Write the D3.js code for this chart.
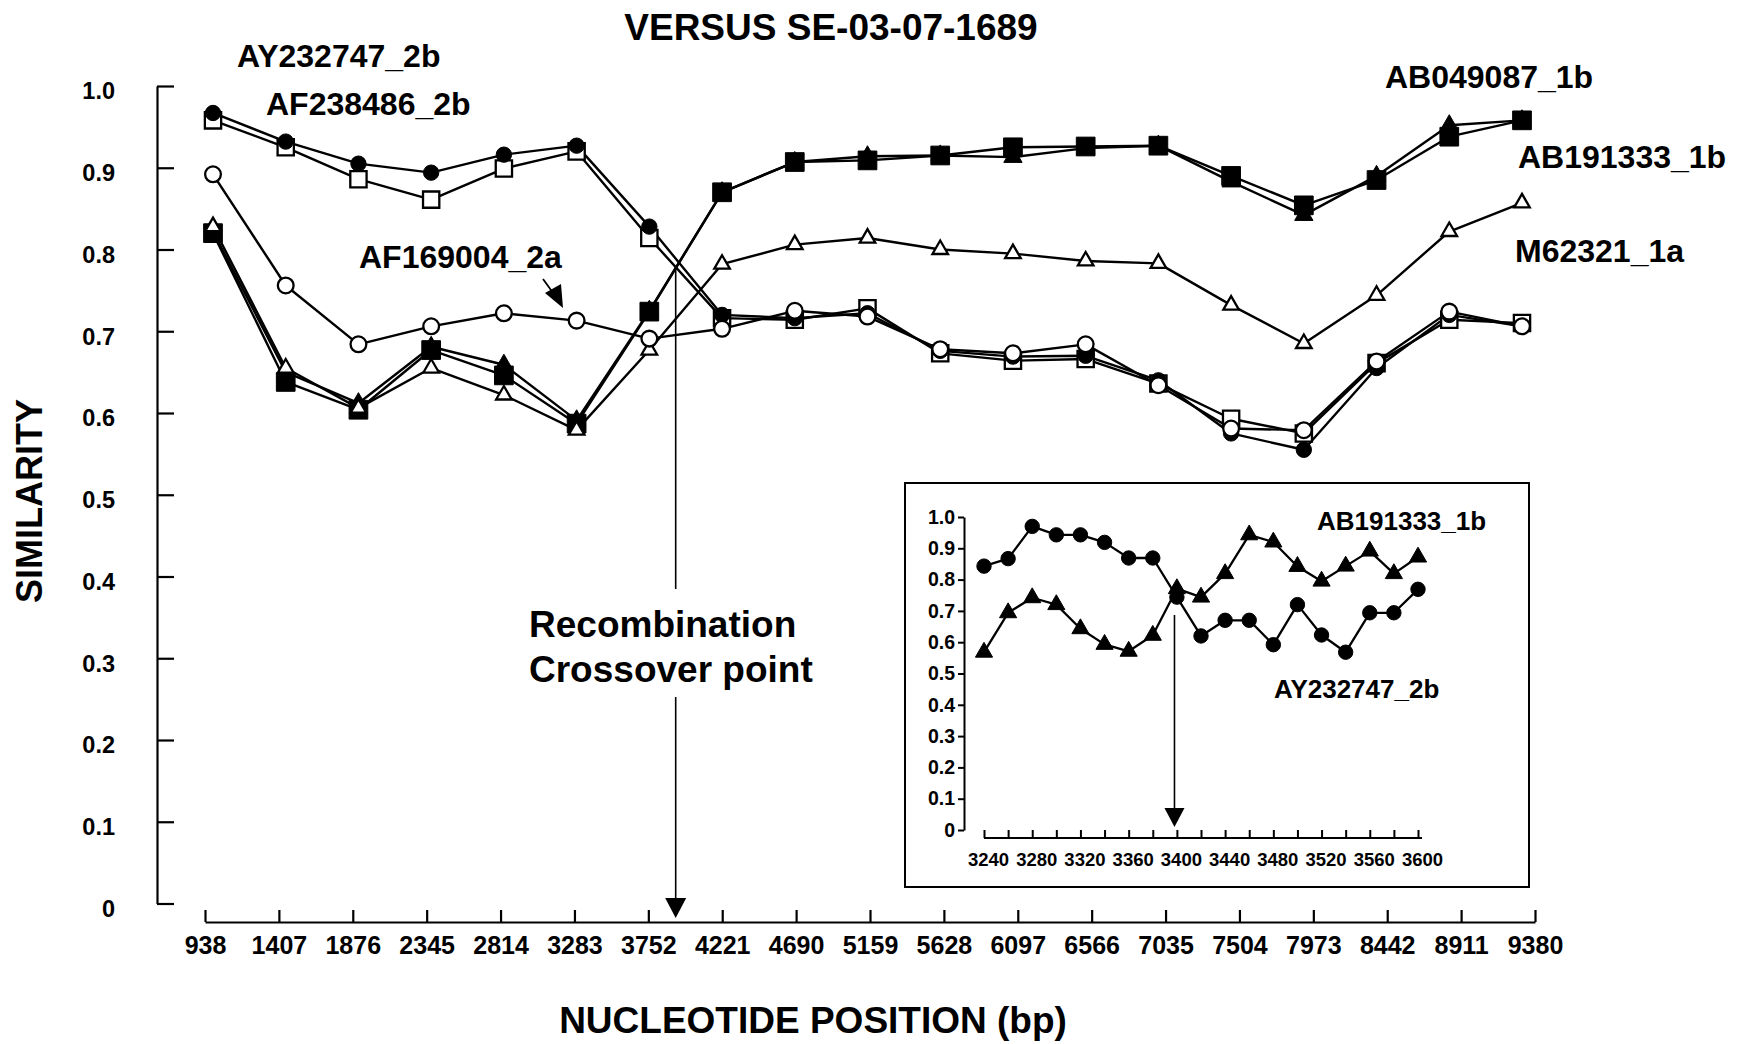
<!DOCTYPE html>
<html>
<head>
<meta charset="utf-8">
<script src="https://cdn.jsdelivr.net/npm/d3@7"></script>
<style>
  body { margin: 0; background: #fff; }
  svg { display: block; }
  text { font-family: "Liberation Sans", Arial, sans-serif; font-weight: bold; fill: #000; }
</style>
</head>
<body>
<div id="vis-display"></div>
<script>
// Similarity plot vs SE-03-07-1689, with a zoomed inset around the crossover.

// ── Data ──────────────────────────────────────────────────────────────────

const positions = [938, 1407, 1876, 2345, 2814, 3283, 3752, 4221, 4690, 5159,
                   5628, 6097, 6566, 7035, 7504, 7973, 8442, 8911, 9380];

const simTicks      = [0, 0.1, 0.2, 0.3, 0.4, 0.5, 0.6, 0.7, 0.8, 0.9, 1.0];
const simTickLabels = ["0", "0.1", "0.2", "0.3", "0.4", "0.5", "0.6", "0.7", "0.8", "0.9", "1.0"];

const af238486_2b = [0.958, 0.925, 0.886, 0.861, 0.899, 0.920, 0.814, 0.716, 0.714, 0.728,
                     0.673, 0.664, 0.666, 0.636, 0.593, 0.575, 0.661, 0.714, 0.710];
const ay232747_2b = [0.967, 0.932, 0.905, 0.894, 0.916, 0.927, 0.828, 0.720, 0.716, 0.722,
                     0.676, 0.669, 0.670, 0.640, 0.575, 0.555, 0.655, 0.720, 0.706];
const ab191333_1b = [0.822, 0.650, 0.612, 0.681, 0.659, 0.591, 0.725, 0.870, 0.907, 0.914,
                     0.915, 0.913, 0.924, 0.927, 0.883, 0.842, 0.890, 0.952, 0.958];
const ab049087_1b = [0.820, 0.638, 0.604, 0.677, 0.646, 0.587, 0.724, 0.870, 0.907, 0.909,
                     0.915, 0.925, 0.926, 0.927, 0.890, 0.854, 0.885, 0.938, 0.958];
const m62321_1a   = [0.828, 0.655, 0.606, 0.655, 0.622, 0.579, 0.677, 0.782, 0.806, 0.814,
                     0.800, 0.795, 0.786, 0.783, 0.732, 0.685, 0.744, 0.822, 0.857];
const af169004_2a = [0.892, 0.756, 0.684, 0.706, 0.722, 0.713, 0.691, 0.703, 0.725, 0.718,
                     0.678, 0.673, 0.684, 0.634, 0.581, 0.579, 0.663, 0.724, 0.706];

const crossoverPos = 3922;   // bp, main arrow
const crossoverTop = 0.777;  // similarity where the arrow starts

// inset: window 3240–3600
const insetPositions  = [3240, 3260, 3280, 3300, 3320, 3340, 3360, 3380, 3400, 3420,
                         3440, 3460, 3480, 3500, 3520, 3540, 3560, 3580, 3600];
const insetTickLabels = [3240, 3280, 3320, 3360, 3400, 3440, 3480, 3520, 3560, 3600];
const insetAY232747   = [0.843, 0.867, 0.970, 0.943, 0.943, 0.919, 0.869, 0.869, 0.744, 0.620,
                         0.670, 0.670, 0.592, 0.720, 0.623, 0.568, 0.694, 0.694, 0.769];
const insetAB191333   = [0.568, 0.694, 0.742, 0.720, 0.643, 0.593, 0.571, 0.622, 0.771, 0.744,
                         0.819, 0.943, 0.920, 0.842, 0.795, 0.843, 0.891, 0.819, 0.872];
const insetCrossover  = 3398;
const insetArrowTop   = 0.687;

// draw order matters: later series sit on top
const series = [
  { name: "AF238486_2b", values: af238486_2b, shape: "square",   filled: false },
  { name: "AY232747_2b", values: ay232747_2b, shape: "circle",   filled: true  },
  { name: "AB191333_1b", values: ab191333_1b, shape: "triangle", filled: true  },
  { name: "AB049087_1b", values: ab049087_1b, shape: "square",   filled: true  },
  { name: "M62321_1a",   values: m62321_1a,   shape: "triangle", filled: false },
  { name: "AF169004_2a", values: af169004_2a, shape: "circle",   filled: false },
];

const insetSeries = [
  { name: "AY232747_2b", values: insetAY232747, shape: "circle",   filled: true },
  { name: "AB191333_1b", values: insetAB191333, shape: "triangle", filled: true },
];

// ── Layout ────────────────────────────────────────────────────────────────

const W = 1742, H = 1044;

const svg = d3.select("#vis-display").append("svg")
  .attr("width", W)
  .attr("height", H);

const xAxisScale = d3.scaleLinear().domain([938, 9380]).range([205, 1535]);
const xScale     = d3.scaleLinear().domain([938, 9380]).range([213, 1522]);
const yScale     = d3.scaleLinear().domain([0, 1]).range([903.5, 86]);

const AXIS_Y = 922;

const SYMBOL = {
  circle:   d3.symbolCircle,
  square:   d3.symbolSquare,
  triangle: d3.symbolTriangle,
};
const SIZE = {
  circle:   { true: 185, false: 195 },
  square:   { true: 350, false: 265 },
  triangle: { true: 145, false: 105 },
};

function drawSeries(g, list, x, y, lineW, sizeScale) {
  const line = d3.line().x(d => x(d.pos)).y(d => y(d.v));

  list.forEach(s => {
    const pts = s.values.map((v, i) => ({ pos: s.positions[i], v }));
    g.append("path")
      .datum(pts)
      .attr("d", line)
      .attr("fill", "none")
      .attr("stroke", "#000")
      .attr("stroke-width", lineW)
      .attr("stroke-linejoin", "round");
  });

  list.forEach(s => {
    const pts = s.values.map((v, i) => ({ pos: s.positions[i], v }));
    const sym = d3.symbol()
      .type(SYMBOL[s.shape])
      .size(SIZE[s.shape][s.filled] * sizeScale);
    g.append("g")
      .selectAll("path")
      .data(pts)
      .join("path")
        .attr("transform", d => `translate(${x(d.pos)},${y(d.v)})`)
        .attr("d", sym)
        .attr("fill", s.filled ? "#000" : "#fff")
        .attr("stroke", "#000")
        .attr("stroke-width", s.filled ? 1 : 2.3);
  });
}

function arrowHead(g, x, tipY, w, h) {
  g.append("path")
    .attr("d", `M${x - w / 2},${tipY - h}L${x + w / 2},${tipY - h}L${x},${tipY}Z`)
    .attr("fill", "#000");
}

// ── Title ─────────────────────────────────────────────────────────────────

svg.append("text")
  .attr("x", 831).attr("y", 40)
  .attr("text-anchor", "middle")
  .style("font-size", "37px")
  .text("VERSUS SE-03-07-1689");

// ── Axes ──────────────────────────────────────────────────────────────────

svg.append("g")
  .attr("transform", "translate(157,0)")
  .call(d3.axisLeft(yScale)
    .tickValues(simTicks)
    .tickFormat((d, i) => simTickLabels[i])
    .tickSizeInner(-17)
    .tickSizeOuter(0)
    .tickPadding(42))
  .call(ax => ax.selectAll("line, path").attr("stroke-width", 2.2))
  .call(ax => ax.selectAll("text")
    .attr("dy", "0.55em")
    .style("font-size", "23.5px")
    .style("font-family", null));

svg.append("g")
  .attr("transform", `translate(0,${AXIS_Y})`)
  .call(d3.axisBottom(xAxisScale)
    .tickValues(positions)
    .tickFormat(d3.format("d"))
    .tickSizeInner(-12)
    .tickSizeOuter(0)
    .tickPadding(14))
  .call(ax => ax.selectAll("line, path").attr("stroke-width", 2.2))
  .call(ax => ax.selectAll("text")
    .style("font-size", "25px")
    .style("font-family", null));

svg.append("text")
  .attr("transform", "translate(42,501) rotate(-90)")
  .attr("text-anchor", "middle")
  .style("font-size", "36px")
  .text("SIMILARITY");

svg.append("text")
  .attr("x", 813).attr("y", 1033)
  .attr("text-anchor", "middle")
  .style("font-size", "37px")
  .text("NUCLEOTIDE POSITION (bp)");

// ── Crossover arrow (main) ────────────────────────────────────────────────

const ann = svg.append("g");
const cx = xScale(crossoverPos);
ann.append("line")
  .attr("x1", cx).attr("x2", cx)
  .attr("y1", yScale(crossoverTop)).attr("y2", 589)
  .attr("stroke", "#000").attr("stroke-width", 1.6);
ann.append("line")
  .attr("x1", cx).attr("x2", cx)
  .attr("y1", 697).attr("y2", 900)
  .attr("stroke", "#000").attr("stroke-width", 1.6);
arrowHead(ann, cx, AXIS_Y - 4, 21, 20);

ann.append("text").attr("x", 529).attr("y", 637)
  .style("font-size", "37px").text("Recombination");
ann.append("text").attr("x", 529).attr("y", 682)
  .style("font-size", "37px").text("Crossover point");

// ── Series ────────────────────────────────────────────────────────────────

series.forEach(s => s.positions = positions);
drawSeries(svg.append("g"), series, xScale, yScale, 2.4, 1);

// ── Series labels ─────────────────────────────────────────────────────────

const labels = [
  { text: "AY232747_2b", x: 237,  y: 67  },
  { text: "AF238486_2b", x: 266,  y: 115 },
  { text: "AF169004_2a", x: 359,  y: 268 },
  { text: "AB049087_1b", x: 1385, y: 88  },
  { text: "AB191333_1b", x: 1518, y: 168 },
  { text: "M62321_1a",   x: 1515, y: 262 },
];
svg.append("g")
  .selectAll("text")
  .data(labels)
  .join("text")
    .attr("x", d => d.x)
    .attr("y", d => d.y)
    .style("font-size", "32px")
    .text(d => d.text);

// small pointer from AF169004_2a label to its line
const ptr = svg.append("g");
ptr.append("line")
  .attr("x1", 543).attr("y1", 279)
  .attr("x2", 556).attr("y2", 297)
  .attr("stroke", "#000").attr("stroke-width", 1.8);
ptr.append("path")
  .attr("d", "M545,293L561,284L563,308Z")
  .attr("fill", "#000");

// ── Inset ─────────────────────────────────────────────────────────────────

const inset = svg.append("g");

inset.append("rect")
  .attr("x", 905).attr("y", 483)
  .attr("width", 624).attr("height", 404)
  .attr("fill", "#fff")
  .attr("stroke", "#000")
  .attr("stroke-width", 2);

const insetX = d3.scaleLinear().domain([3240, 3600]).range([984, 1418]);
const insetY = d3.scaleLinear().domain([0, 1]).range([830, 517]);
const INSET_AXIS_Y = 838;

inset.append("g")
  .attr("transform", "translate(964,0)")
  .call(d3.axisLeft(insetY)
    .tickValues(simTicks)
    .tickFormat((d, i) => simTickLabels[i])
    .tickSizeInner(6)
    .tickSizeOuter(0)
    .tickPadding(3))
  .call(ax => ax.selectAll("line, path").attr("stroke-width", 2))
  .call(ax => ax.selectAll("text")
    .style("font-size", "19.5px")
    .style("font-family", null));

inset.append("g")
  .attr("transform", `translate(0,${INSET_AXIS_Y})`)
  .call(d3.axisBottom(insetX)
    .tickValues(insetPositions)
    .tickFormat(d => insetTickLabels.includes(d) ? d : "")
    .tickSizeInner(-8)
    .tickSizeOuter(0)
    .tickPadding(15))
  .call(ax => ax.select(".domain").attr("d", `M${insetX(3240)},0H${insetX(3600) + 4}`))
  .call(ax => ax.selectAll("line, path").attr("stroke-width", 2))
  .call(ax => ax.selectAll("text")
    .attr("dx", 4)
    .style("font-size", "18.5px")
    .style("font-family", null));

const ix = insetX(insetCrossover);
inset.append("line")
  .attr("x1", ix).attr("x2", ix)
  .attr("y1", insetY(insetArrowTop)).attr("y2", 810)
  .attr("stroke", "#000").attr("stroke-width", 1.6);
arrowHead(inset, ix, 827, 20, 19);

insetSeries.forEach(s => s.positions = insetPositions);
drawSeries(inset.append("g"), insetSeries, insetX, insetY, 2.3, 0.88);

inset.append("text").attr("x", 1317).attr("y", 530)
  .style("font-size", "26px").text("AB191333_1b");
inset.append("text").attr("x", 1274).attr("y", 698)
  .style("font-size", "26px").text("AY232747_2b");
</script>
</body>
</html>
